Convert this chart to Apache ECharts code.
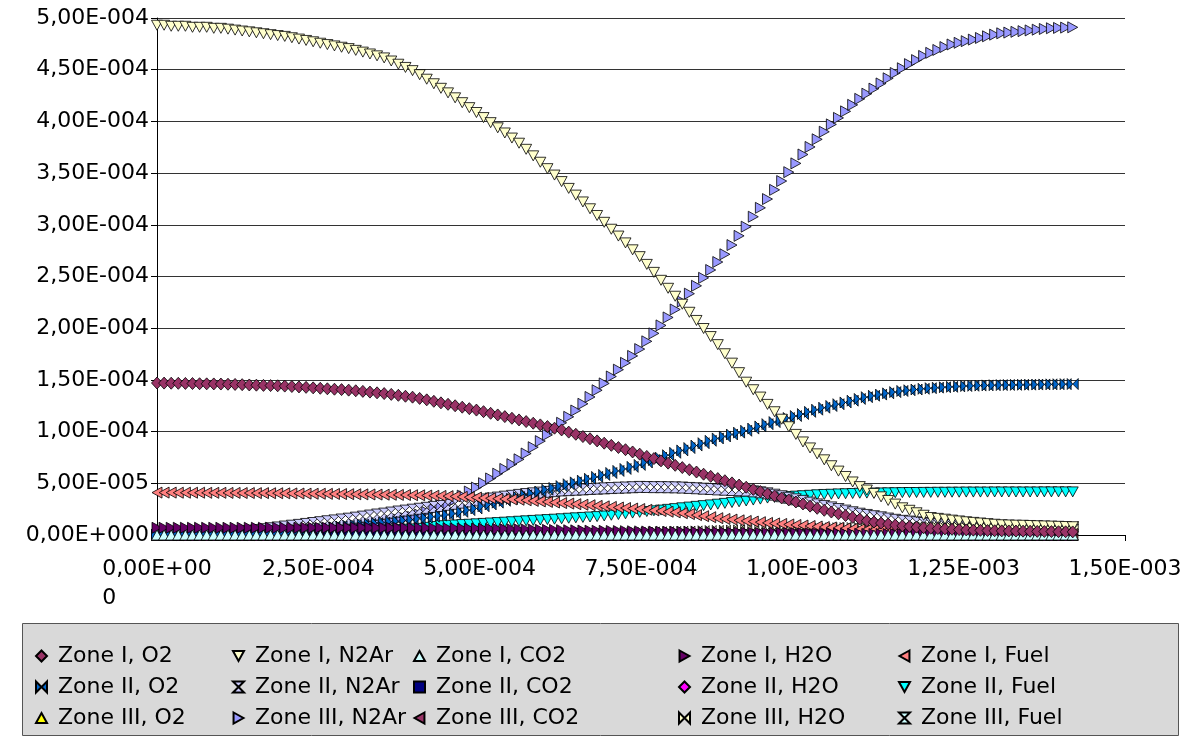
<!DOCTYPE html>
<html>
<head>
<meta charset="utf-8">
<script src="https://cdn.jsdelivr.net/npm/echarts@6/dist/echarts.min.js"></script>
<style>
html,body{margin:0;padding:0;background:#fff;}
#chart{width:1194px;height:744px;}
</style>
</head>
<body>
<div id="chart"></div>
<script>
// x values in units of 1e-6 (time)
const xValues = [0,11,22,33,44,55,66,77,88,99,110,121,132,143,154,165,176,187,198,209,220,231,242,253,264,275,286,297,308,319,330,341,352,363,374,385,396,407,418,429,440,451,462,473,484,495,506,517,528,539,550,561,572,583,594,605,616,627,638,649,660,671,682,693,704,715,726,737,748,759,770,781,792,803,814,825,836,847,858,869,880,891,902,913,924,935,946,957,968,979,990,1001,1012,1023,1034,1045,1056,1067,1078,1089,1100,1111,1122,1133,1144,1155,1166,1177,1188,1199,1210,1221,1232,1243,1254,1265,1276,1287,1298,1309,1320,1331,1342,1353,1364,1375,1386,1397,1408,1419];

// series values in units of 1e-6
const zoneI_O2 = [147,146.9,146.8,146.7,146.6,146.5,146.3,146.2,146.1,146,
145.8,145.6,145.4,145.1,144.9,144.7,144.5,144.3,144,143.6,
143.2,142.8,142.3,141.9,141.4,141,140.6,140.1,139.5,138.9,
138.2,137.5,136.8,136,135.1,134.2,133.3,132.1,130.7,129.3,
127.8,126.4,125,123.6,122.2,120.8,119.3,117.7,116.1,114.5,
112.9,111.3,109.7,108.1,106.5,104.9,103.3,101.6,99.5,97.4,
95.2,93.1,91,88.8,86.7,84.6,82.5,80.3,78.2,76,
73.9,71.7,69.5,67.4,65.2,63.1,60.9,58.8,56.7,54.6,
52.5,50.4,48.3,46.2,44.1,42,39.8,37.8,35.8,33.9,
31.9,30,27.9,25.8,23.9,22.2,20.5,18.8,17.1,15.4,
13.8,12.5,11.5,10.6,9.6,8.8,8.2,7.6,7,6.5,
6.2,5.9,5.5,5.2,4.9,4.7,4.5,4.3,4.1,4,
3.9,3.8,3.7,3.6,3.5,3.4,3.3,3.2,3.1,3];

const zoneI_N2Ar = [493,493,492,492,492,491,491,491,490,490,
489.2,488.3,487.4,486.6,485.7,484.8,483.9,483,482.2,480.9,
479.6,478.3,477,475.6,474.3,473,471.7,470.4,468.7,467,
465.2,463.4,461.4,458.4,455.3,452.2,449.1,445.2,440.8,436.4,
432,427.6,422.8,418.1,413.3,408.6,403.7,398.8,393.8,388.8,
383.9,378.9,373,366.7,360.5,354.3,348.1,341.8,335.2,328.7,
322.1,315.5,309,302.4,295.7,289.1,282.5,275.8,269.2,261.7,
254,246.3,238.6,230.9,223.2,215.4,207.5,199.7,191.9,184.1,
175.3,166.2,157,147.8,140.5,133.4,126.3,119.2,112,104.7,
97.3,90,84.2,78.5,72.7,67,61.8,56.6,51.3,46.8,
43.5,40.2,36.9,33.4,29.9,26.3,23.9,21.5,19.1,16.9,
16.1,15.3,14.4,13.6,12.8,12.2,11.6,11,10.4,9.9,
9.7,9.5,9.4,9.2,9,8.8,8.6,8.4,8.2,8];

const zoneI_CO2 = [0,0,0,0,0,0,0,0,0,0,0,0,0,0,0,0,0,0,0,0,0,0,0,0,0,0,0,0,0,0,0,0,0,0,0,0,0,0,0,0,0,0,0,0,0,0,0,0,0,0,0,0,0,0,0,0,0,0,0,0,0,0,0,0,0,0,0,0,0,0,0,0,0,0,0,0,0,0,0,0,0,0,0,0,0,0,0,0,0,0,0,0,0,0,0,0,0,0,0,0,0,0,0,0,0,0,0,0,0,0,0,0,0,0,0,0,0,0,0,0,0,0,0,0,0,0,0,0,0,0];

const zoneI_H2O = [7,7,7,7,7,7,7,7,7,7,
7,7,7,7,7,7,7,7,7,7,
7,7,7,7,7,7,7,7,7,7,
6.9,6.9,6.9,6.9,6.9,6.8,6.8,6.8,6.7,6.6,
6.6,6.5,6.4,6.3,6.2,6.1,6,5.9,5.8,5.7,
5.6,5.5,5.4,5.3,5.1,5,4.9,4.7,4.6,4.5,
4.3,4.2,4.1,4,3.9,3.8,3.7,3.6,3.5,3.4,
3.3,3.2,3.1,3.1,3,2.9,2.8,2.7,2.7,2.6,
2.5,2.4,2.4,2.3,2.2,2.1,2,2,1.9,1.8,
1.7,1.7,1.6,1.5,1.4,1.4,1.3,1.2,1.1,1.1,
1,1,1,0.9,0.9,0.9,0.8,0.8,0.8,0.7,
0.7,0.7,0.7,0.6,0.6,0.6,0.6,0.5,0.5,0.5,
0.5,0.5,0.4,0.4,0.4,0.4,0.4,0.3,0.3,0.3];

const zoneI_Fuel = [41,41,41,40.9,40.9,40.9,40.9,40.8,40.8,40.8,
40.7,40.7,40.6,40.6,40.5,40.5,40.4,40.4,40.3,40.2,
40.1,40,39.9,39.9,39.8,39.7,39.6,39.5,39.4,39.3,
39.2,39.1,39,38.9,38.8,38.7,38.5,38.4,38.2,38,
37.8,37.6,37.3,36.9,36.5,36.2,35.8,35.5,35.1,34.8,
34.4,34.1,33.6,33,32.5,32,31.4,30.9,30.4,29.8,
29.3,28.8,28.2,27.7,27.2,26.6,26.1,25.6,25.1,24.4,
23.8,23.2,22.5,21.9,21.1,20.2,19.2,18.2,17.2,16.3,
15.5,14.9,14.2,13.6,13,12.4,11.7,11.2,10.7,10.2,
9.7,9.2,8.7,8.2,7.7,7.3,6.9,6.5,6,5.6,
5.2,4.9,4.6,4.4,4.1,3.9,3.6,3.4,3.2,3,
2.9,2.7,2.6,2.4,2.3,2.1,1.9,1.8,1.6,1.5,
1.5,1.4,1.4,1.3,1.3,1.2,1.2,1.1,1.1,1];

const zoneII_O2 = [0.5,0.6,0.6,0.7,0.7,0.8,0.8,0.9,0.9,1,
1.2,1.4,1.6,1.9,2.1,2.3,2.5,2.7,3,3.5,
4.2,4.9,5.5,6.2,6.8,7.5,8.2,8.8,9.5,10.1,
10.8,11.5,12.1,12.8,13.4,14.1,14.8,15.6,16.7,17.7,
18.7,19.7,20.7,22.4,24.1,25.7,27.8,29.6,31.3,33.1,
34.9,36.7,38.5,40.2,42,43.8,45.5,47.3,49.1,50.9,
52.6,54.4,56.2,58.1,60,62,63.9,65.9,67.8,70.1,
72.5,74.8,77.2,79.5,81.8,84.1,86.5,88.8,91.1,93.4,
95.3,97.2,99,100.8,102.9,105,107.2,109.2,111.2,113.2,
115.1,117,119.1,121.2,123.1,124.8,126.5,128.2,129.9,131.6,
133.3,134.7,135.8,137,138.2,139.3,140,140.7,141.4,142,
142.5,142.9,143.3,143.7,144.1,144.3,144.5,144.7,144.9,145,
145.1,145.2,145.3,145.4,145.5,145.6,145.7,145.8,145.9,146];

const zoneII_N2Ar = [0,0.2,0.3,0.5,0.7,0.8,1,1.4,1.8,2.2,
2.7,3.1,3.5,4,4.8,5.6,6.5,7.3,8.2,9,
9.8,10.7,11.6,12.4,13.3,14.1,15,15.8,16.8,17.8,
18.8,19.8,20.7,21.7,22.7,23.6,24.5,25.4,26.3,27.2,
28.1,29.2,30.2,31.3,32.4,33.4,34.4,35.3,36.2,37.1,
37.9,38.8,39.6,40.3,41,41.7,42.4,43.1,43.4,43.8,
44.1,44.5,44.8,45.1,45.4,45.7,45.9,46.2,46.5,46.4,
46.3,46.3,46.2,46.1,45.9,45.5,45.2,44.8,44.5,44.1,
43.8,43.5,43.3,43,42.2,41.3,40.3,39,37.5,36,
34.5,33,31.3,29.6,28.1,26.7,25.1,23.6,22,20.6,
19.4,18.2,17.1,15.9,14.7,13.7,13,12.3,11.6,11,
10.5,10.1,9.7,9.3,8.9,8.5,8.1,7.7,7.3,6.9,
6.7,6.5,6.3,6.2,6,5.8,5.6,5.4,5.2,5];

const zoneII_CO2 = [0,0,0,0,0,0,0,0,0,0,0,0,0,0,0,0,0,0,0,0,0,0,0,0,0,0,0,0,0,0,0,0,0,0,0,0,0,0,0,0,0,0,0,0,0,0,0,0,0,0,0,0,0,0,0,0,0,0,0,0,0,0,0,0,0,0,0,0,0,0,0,0,0,0,0,0,0,0,0,0,0,0,0,0,0,0,0,0,0,0,0,0,0,0,0,0,0,0,0,0,0,0,0,0,0,0,0,0,0,0,0,0,0,0,0,0,0,0,0,0,0,0,0,0,0,0,0,0,0,0];

const zoneII_H2O = [0,0,0,0,0,0,0,0,0,0,0,0,0,0,0,0,0,0,0,0,0,0,0,0,0,0,0,0,0,0,0,0,0,0,0,0,0,0,0,0,0,0,0,0,0,0,0,0,0,0,0,0,0,0,0,0,0,0,0,0,0,0,0,0,0,0,0,0,0,0,0,0,0,0,0,0,0,0,0,0,0,0,0,0,0,0,0,0,0,0,0,0,0,0,0,0,0,0,0,0,0,0,0,0,0,0,0,0,0,0,0,0,0,0,0,0,0,0,0,0,0,0,0,0,0,0,0,0,0,0];

const zoneII_Fuel = [0,0.1,0.1,0.2,0.2,0.3,0.3,0.4,0.4,0.5,
0.6,0.7,0.8,0.9,1,1.2,1.3,1.4,1.5,1.6,
1.8,2,2.1,2.3,2.5,2.6,2.8,3,3.2,3.6,
3.9,4.2,4.6,4.9,5.2,5.6,5.9,6.4,7.4,8.2,
9,9.4,9.7,10.1,10.4,10.8,11.2,11.6,12,12.4,
12.8,13.3,13.7,14.1,14.5,14.9,15.3,15.7,16.2,16.6,
17,17.4,17.8,18.4,19.1,19.8,20.5,21.2,21.9,22.7,
23.4,24.1,24.8,25.5,26.3,27,27.7,28.4,29.1,29.8,
30.6,31.4,32.1,32.9,33.8,34.7,35.7,36.3,36.7,37.2,
37.6,38,38.4,38.9,39.2,39.4,39.7,39.9,40.1,40.4,
40.5,40.6,40.7,40.8,40.9,41,41.1,41.1,41.2,41.2,
41.3,41.3,41.4,41.4,41.5,41.5,41.5,41.5,41.6,41.6,
41.6,41.6,41.6,41.6,41.6,41.7,41.7,41.7,41.7,41.7];

const zoneIII_O2 = [0,0,0,0,0,0,0,0,0,0,0,0,0,0,0,0,0,0,0,0,0,0,0,0,0,0,0,0,0,0,0,0,0,0,0,0,0,0,0,0,0,0,0,0,0,0,0,0,0,0,0,0,0,0,0,0,0,0,0,0,0,0,0,0,0,0,0,0,0,0,0,0,0,0,0,0,0,0,0,0,0,0,0,0,0,0,0,0,0,0,0,0,0,0,0,0,0,0,0,0,0,0,0,0,0,0,0,0,0,0,0,0,0,0,0,0,0,0,0,0,0,0,0,0,0,0,0,0,0,0];

const zoneIII_N2Ar = [0,0.1,0.1,0.2,0.2,0.3,0.3,0.4,0.4,0.5,
0.8,1,1.3,1.6,1.9,2.1,2.4,2.7,3,3.5,
4,4.6,5.1,5.7,6.2,6.8,7.3,7.9,8.6,9.5,
10.4,11.3,12.2,13.6,14.9,16.2,17.5,19.7,22.3,25,
27.6,30.4,34.2,38.1,42,45.9,50.1,54.7,59.3,63.9,
68.5,73.2,78.8,84.9,90.8,96.8,102.7,108.5,114.3,120.4,
126.9,133.5,140,146.6,153.3,159.9,166.5,173.2,179.8,187.3,
195,202.7,210.4,218.1,225.8,233.4,241,248.7,256.3,264,
271.5,280.4,289.3,298.2,307.8,316.4,324.9,333.8,342.3,350.9,
359.4,368,375.3,382.7,390,397.1,403.4,409.7,416,421.8,
426.8,431.7,436.7,441.7,446.8,451.4,455.4,459.3,463.3,466.3,
469.1,471.9,474.4,476,477.6,479.1,480.7,482.3,483.9,485.2,
485.9,486.6,487.3,488,488.7,489.4,490.1,490.4,490.7,491];

const zoneIII_CO2 = [0,0,0,0,0,0,0,0,0,0,0,0,0,0,0,0,0,0,0,0,0,0,0,0,0,0,0,0,0,0,0,0,0,0,0,0,0,0,0,0,0,0,0,0,0,0,0,0,0,0,0,0,0,0,0,0,0,0,0,0,0,0,0,0,0,0,0,0,0,0,0,0,0,0,0,0,0,0,0,0,0,0,0,0,0,0,0,0,0,0,0,0,0,0,0,0,0,0,0,0,0,0,0,0,0,0,0,0,0,0,0,0,0,0,0,0,0,0,0,0,0,0,0,0,0,0,0,0,0,0];

const zoneIII_H2O = [0,0,0,0,0,0,0,0,0,0,
0,0,0,0,0,0,0,0,0,0,
0,0,0,0,0,0,0,0,0,0,
0,0,0,0,0,0,0,0,0,0,
0,0,0,0,0,0,0,0.1,0.1,0.2,
0.3,0.3,0.4,0.4,0.5,0.6,0.7,0.8,0.9,1,
1.1,1.2,1.3,1.4,1.6,1.7,1.9,2.1,2.2,2.4,
2.6,2.7,2.9,3,3.2,3.4,3.5,3.7,3.9,4,
4.2,4.4,4.5,4.7,4.9,5,5.2,5.4,5.5,5.7,
5.9,6,6.1,6.2,6.3,6.5,6.6,6.7,6.8,6.9,
7,7.1,7.1,7.2,7.2,7.3,7.3,7.4,7.4,7.5,
7.5,7.5,7.6,7.6,7.6,7.6,7.7,7.7,7.7,7.7,
7.8,7.8,7.8,7.8,7.9,7.9,7.9,7.9,8,8];

const zoneIII_Fuel = [0,0,0,0,0,0,0,0,0,0,0,0,0,0,0,0,0,0,0,0,0,0,0,0,0,0,0,0,0,0,0,0,0,0,0,0,0,0,0,0,0,0,0,0,0,0,0,0,0,0,0,0,0,0,0,0,0,0,0,0,0,0,0,0,0,0,0,0,0,0,0,0,0,0,0,0,0,0,0,0,0,0,0,0,0,0,0,0,0,0,0,0,0,0,0,0,0,0,0,0,0,0,0,0,0,0,0,0,0,0,0,0,0,0,0,0,0,0,0,0,0,0,0,0,0,0,0,0,0,0];

const seriesNames = ['Zone I, O2','Zone I, N2Ar','Zone I, CO2','Zone I, H2O','Zone I, Fuel',
  'Zone II, O2','Zone II, N2Ar','Zone II, CO2','Zone II, H2O','Zone II, Fuel',
  'Zone III, O2','Zone III, N2Ar','Zone III, CO2','Zone III, H2O','Zone III, Fuel'];
const seriesValues = [zoneI_O2, zoneI_N2Ar, zoneI_CO2, zoneI_H2O, zoneI_Fuel,
  zoneII_O2, zoneII_N2Ar, zoneII_CO2, zoneII_H2O, zoneII_Fuel,
  zoneIII_O2, zoneIII_N2Ar, zoneIII_CO2, zoneIII_H2O, zoneIII_Fuel];

const yTickLabels = ['0,00E+000','5,00E-005','1,00E-004','1,50E-004','2,00E-004','2,50E-004','3,00E-004','3,50E-004','4,00E-004','4,50E-004','5,00E-004'];
const xTickLabels = ['0,00E+000','2,50E-004','5,00E-004','7,50E-004','1,00E-003','1,25E-003','1,50E-003'];

// marker shapes
const SYM = {
  diamond: 'diamond',
  triDown: 'path://M0,0L10,0L5,9Z',
  triUp: 'path://M5,0L10,9L0,9Z',
  triRight: 'path://M0,0L9,5L0,10Z',
  triLeft: 'path://M9,0L0,5L9,10Z',
  bowtie: 'path://M0,0L5,5L0,10ZM10,0L5,5L10,10Z',
  hourglass: 'path://M0,0L10,0L5,5ZM0,10L10,10L5,5Z',
  square: 'rect'
};
const styles = [
  {s:SYM.diamond, size:[11,12], c:'#993366'},
  {s:SYM.triDown, size:[11,10], c:'#FFFFCC'},
  {s:SYM.triUp, size:[11,10], c:'#CCFFFF'},
  {s:SYM.triRight, size:[10,11], c:'#660066'},
  {s:SYM.triLeft, size:[10,11], c:'#FF8080'},
  {s:SYM.bowtie, size:[11,11], c:'#0066CC'},
  {s:SYM.hourglass, size:[11,11], c:'#CCCCFF'},
  {s:SYM.square, size:[8,8], c:'#000080'},
  {s:SYM.diamond, size:[11,12], c:'#FF00FF'},
  {s:SYM.triDown, size:[11,10], c:'#00FFFF'},
  {s:SYM.triUp, size:[11,10], c:'#FFFF00'},
  {s:SYM.triRight, size:[10,11], c:'#9999FF'},
  {s:SYM.triLeft, size:[10,11], c:'#993366'},
  {s:SYM.bowtie, size:[11,11], c:'#FFFFCC'},
  {s:SYM.hourglass, size:[11,11], c:'#CCFFFF'}
];

const FONT = 'DejaVu Sans';
const series = seriesNames.map((name, k) => ({
  name: name,
  type: 'scatter',
  clip: false,
  z: 40 - k,
  symbol: styles[k].s,
  symbolSize: styles[k].size,
  itemStyle: {color: styles[k].c, borderColor: '#000', borderWidth: 0.8, opacity: 1},
  emphasis: {disabled: true},
  data: xValues.map((x, i) => [x, seriesValues[k][i]])
}));

const legendLefts = [30, 227, 408, 673, 893];
const legends = legendLefts.map((left, col) => ({
  orient: 'vertical',
  left: left,
  top: 640,
  itemWidth: 11,
  itemHeight: 11,
  itemGap: 9,
  selectedMode: false,
  textStyle: {fontFamily: FONT, fontSize: 22, color: '#000', lineHeight: 22, padding: [0,0,0,6]},
  data: [0,1,2].map(row => ({name: seriesNames[row*5+col], icon: styles[row*5+col].s}))
}));

const chart = echarts.init(document.getElementById('chart'), null, {renderer: 'canvas'});
chart.setOption({
  animation: false,
  backgroundColor: '#fff',
  grid: {left: 157, right: 69, top: 18, bottom: 209},
  xAxis: {
    type: 'value', min: 0, max: 1500, interval: 250,
    axisLine: {show: true, lineStyle: {color: '#000', width: 1}},
    axisTick: {show: true, length: 6, lineStyle: {color: '#000'}},
    splitLine: {show: false},
    axisLabel: {
      margin: 20, color: '#000', fontFamily: FONT, fontSize: 22, lineHeight: 29,
      formatter: function (v) {
        const lab = xTickLabels[Math.round(v / 250)];
        if (v === 0) return '{a|' + lab.slice(0, 8) + '}\n{b|' + lab.slice(8) + '}';
        return lab;
      },
      rich: {
        a: {fontFamily: FONT, fontSize: 22, color: '#000', lineHeight: 29},
        b: {fontFamily: FONT, fontSize: 22, color: '#000', lineHeight: 29, width: 105, align: 'left'}
      }
    }
  },
  yAxis: {
    type: 'value', min: 0, max: 500, interval: 50,
    axisLine: {show: true, lineStyle: {color: '#000', width: 1}},
    axisTick: {show: true, length: 6, lineStyle: {color: '#000'}},
    splitLine: {show: true, lineStyle: {color: '#333', width: 1}},
    axisLabel: {
      margin: 8, color: '#000', fontFamily: FONT, fontSize: 22,
      formatter: function (v) { return yTickLabels[Math.round(v / 50)]; }
    }
  },
  legend: legends,
  graphic: [{
    type: 'rect', z: -1, silent: true,
    shape: {x: 22.5, y: 623.5, width: 1156, height: 112},
    style: {fill: '#D9D9D9', stroke: '#555', lineWidth: 1}
  }],
  series: series
});
</script>
</body>
</html>
